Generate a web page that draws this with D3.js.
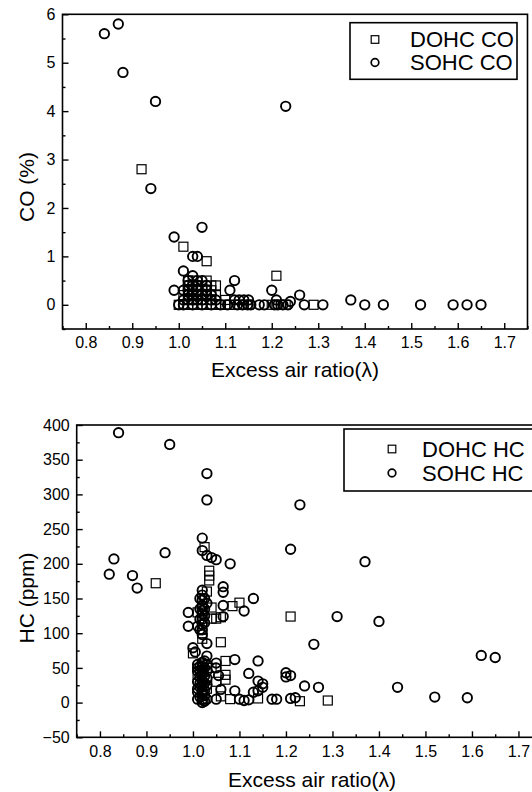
<!DOCTYPE html>
<html>
<head>
<meta charset="utf-8">
<script src="https://cdn.jsdelivr.net/npm/d3@7/dist/d3.min.js"></script>
<style>
  body { margin: 0; background: #fff; }
  text { font-family: "Liberation Sans", Arial, sans-serif; fill: #000; }
</style>
</head>
<body>
<svg id="chart"></svg>
<script>
// x axis shared by both panels
const xTicks = [0.8, 0.9, 1.0, 1.1, 1.2, 1.3, 1.4, 1.5, 1.6, 1.7];
const xMinor = [0.75, 0.85, 0.95, 1.05, 1.15, 1.25, 1.35, 1.45, 1.55, 1.65, 1.75];

// CO panel
const coTicks = [0, 1, 2, 3, 4, 5, 6];
const coMinor = [-0.5, 0.5, 1.5, 2.5, 3.5, 4.5, 5.5];
const coLegend = ["DOHC CO", "SOHC CO"];
const dohcCO = [
  [0.92, 2.8], [1.01, 1.2], [1.06, 0.9], [1.21, 0.6], [1.29, 0],
  [1.02, 0.5], [1.03, 0.5], [1.04, 0.4], [1.06, 0.5], [1.05, 0.3], [1.07, 0.4],
  [1.08, 0.4], [1.07, 0.3], [1.08, 0.2], [1.02, 0.3], [1.03, 0.2], [1.02, 0.1],
  [1.04, 0.1], [1.06, 0.1], [1.1, 0.1], [1.05, 0.2], [1.03, 0.4], [1.01, 0.2],
  [1.04, 0.3], [1.06, 0.2], [1.02, 0.4], [1.05, 0.4],
  [1.0, 0], [1.01, 0], [1.02, 0], [1.03, 0], [1.04, 0], [1.05, 0], [1.06, 0],
  [1.07, 0], [1.08, 0], [1.09, 0], [1.1, 0], [1.11, 0], [1.12, 0], [1.13, 0],
  [1.14, 0], [1.15, 0], [1.2, 0], [1.21, 0], [1.22, 0], [1.23, 0]
];
const sohcCO = [
  [0.84, 5.6], [0.87, 5.8], [0.88, 4.8], [0.95, 4.2], [1.23, 4.1], [0.94, 2.4],
  [1.05, 1.6], [0.99, 1.4], [1.03, 1.0], [1.04, 1.0], [1.01, 0.7], [1.03, 0.6],
  [1.12, 0.5], [0.99, 0.3], [1.11, 0.3], [1.2, 0.3], [1.26, 0.2], [1.24, 0.07],
  [1.21, 0.1], [1.37, 0.1],
  [1.27, 0], [1.31, 0], [1.40, 0], [1.44, 0], [1.52, 0], [1.59, 0], [1.62, 0], [1.65, 0],
  [1.02, 0.5], [1.04, 0.5], [1.05, 0.5], [1.02, 0.4], [1.03, 0.3], [1.05, 0.2],
  [1.07, 0.2], [1.04, 0.2], [1.02, 0.2], [1.06, 0.3], [1.01, 0.1], [1.03, 0.1],
  [1.05, 0.1], [1.07, 0.1], [1.13, 0.1], [1.14, 0.1], [1.15, 0.1], [1.12, 0.1],
  [1.02, 0.3], [1.04, 0.3], [1.06, 0.2], [1.03, 0.4], [1.04, 0.4], [1.06, 0.4],
  [1.08, 0.1], [1.02, 0.1], [1.04, 0.1], [1.03, 0.2], [1.01, 0.3],
  [1.0, 0], [1.01, 0], [1.03, 0], [1.05, 0], [1.07, 0], [1.09, 0], [1.105, 0],
  [1.126, 0], [1.137, 0], [1.148, 0], [1.155, 0], [1.173, 0], [1.184, 0],
  [1.206, 0], [1.213, 0], [1.224, 0], [1.235, 0]
];

// HC panel
const hcTicks = [-50, 0, 50, 100, 150, 200, 250, 300, 350, 400];
const hcMinor = [-25, 25, 75, 125, 175, 225, 275, 325, 375];
const hcLegend = ["DOHC HC", "SOHC HC"];
const dohcHC = [
  [0.92, 172], [1.025, 224], [1.035, 190], [1.035, 183], [1.035, 176], [1.1, 144],
  [1.085, 139], [1.03, 160], [1.04, 137], [1.21, 124], [1.06, 87], [1.07, 60],
  [1.07, 40], [1.07, 33], [1.06, 9], [1.01, 130], [1.0, 71], [1.08, 5], [1.14, 6],
  [1.23, 2], [1.29, 3], [1.04, 121], [1.05, 121], [1.06, 123], [1.02, 125],
  [1.02, 100], [1.02, 92], [1.02, 55], [1.02, 45], [1.02, 35], [1.02, 25],
  [1.02, 15], [1.02, 5], [1.01, 40], [1.03, 20], [1.04, 50], [1.05, 30]
];
const sohcHC = [
  [0.84, 389], [0.95, 372], [1.03, 330], [1.03, 292], [1.23, 285], [1.02, 237],
  [1.21, 221], [1.37, 203], [0.94, 216], [0.83, 207], [0.82, 185], [0.87, 183],
  [0.88, 165], [1.02, 219], [1.03, 212], [1.04, 209], [1.05, 206], [1.08, 200],
  [1.065, 167], [1.065, 159], [1.02, 162], [1.13, 150], [1.065, 140], [1.11, 132],
  [1.065, 124], [0.99, 130], [0.99, 110], [1.31, 124], [1.40, 117], [1.26, 84],
  [1.62, 68], [1.65, 65], [1.44, 22], [1.52, 8], [1.59, 7],
  [1.09, 62], [1.14, 60], [1.12, 42], [1.2, 43], [1.2, 37], [1.21, 39], [1.24, 24],
  [1.27, 22], [1.14, 31], [1.15, 27], [1.15, 22], [1.14, 17], [1.13, 15], [1.09, 17],
  [1.1, 5], [1.11, 3], [1.12, 4], [1.17, 5], [1.18, 5], [1.21, 6], [1.22, 7],
  [1.03, 85], [1.0, 79], [1.005, 73], [1.03, 67], [1.05, 57], [1.05, 50],
  [1.055, 39], [1.06, 19], [1.05, 5],
  [1.02, 155], [1.02, 148], [1.02, 140], [1.025, 135], [1.02, 128], [1.015, 120],
  [1.02, 113], [1.02, 105], [1.02, 98], [1.03, 143], [1.01, 110],
  [1.015, 105], [1.015, 135], [1.015, 150], [1.025, 115], [1.025, 125],
  [1.025, 150], [1.02, 120], [1.02, 133],
  [1.02, 58], [1.015, 52], [1.02, 47], [1.02, 42], [1.015, 37], [1.02, 32],
  [1.02, 27], [1.015, 22], [1.02, 17], [1.02, 12], [1.015, 8], [1.02, 4],
  [1.02, 0], [1.025, 2], [1.01, 15], [1.01, 30], [1.03, 25], [1.03, 45],
  [1.025, 10], [1.03, 5],
  [1.01, 5], [1.01, 20], [1.01, 45], [1.01, 55], [1.025, 18], [1.025, 28],
  [1.025, 38], [1.025, 50], [1.03, 35], [1.03, 55], [1.015, 28], [1.015, 45],
  [1.01, 50], [1.02, 52], [1.025, 60]
];

const W = 532, H = 792;
const svg = d3.select("#chart").attr("width", W).attr("height", H);

function draw_panel(cfg) {
    const x = d3.scaleLinear().domain([0.75, 1.75]).range([cfg.left, cfg.left + 465]);
    const y = d3.scaleLinear().domain(cfg.yDomain).range([cfg.bottom, cfg.top]);
    const g = svg.append("g");

    // minor ticks
    g.append("g")
        .attr("transform", `translate(0,${cfg.bottom})`)
        .call(d3.axisBottom(x).tickValues(xMinor).tickSize(-3).tickFormat(""));
    g.append("g")
        .attr("transform", `translate(${cfg.left},0)`)
        .call(d3.axisLeft(y).tickValues(cfg.yMinor).tickSize(-3).tickFormat(""));

    g.append("g")
        .attr("transform", `translate(0,${cfg.bottom})`)
        .call(d3.axisBottom(x).tickValues(xTicks).tickSize(-6).tickPadding(8)
            .tickFormat(d3.format(".1f")));
    g.append("g")
        .attr("transform", `translate(${cfg.left},0)`)
        .call(d3.axisLeft(y).tickValues(cfg.yTicks).tickSize(-6).tickPadding(7)
            .tickFormat(d3.format("d")));

    g.selectAll(".domain").remove();
    g.selectAll(".tick line").attr("stroke", "#000").attr("stroke-width", 1.4);
    g.selectAll(".tick text").attr("font-size", "16px");

    // frame
    g.append("rect")
        .attr("x", cfg.left).attr("y", cfg.top)
        .attr("width", x(1.75) - cfg.left).attr("height", cfg.bottom - cfg.top)
        .attr("fill", "none").attr("stroke", "#000").attr("stroke-width", 1.6);

    // points
    g.append("g").selectAll("rect")
        .data(cfg.squares)
        .join("rect")
        .attr("x", d => x(d[0]) - 4.5)
        .attr("y", d => y(d[1]) - 4.5)
        .attr("width", 9).attr("height", 9)
        .attr("fill", "none").attr("stroke", "#000").attr("stroke-width", 1.2);
    g.append("g").selectAll("circle")
        .data(cfg.circles)
        .join("circle")
        .attr("cx", d => x(d[0]))
        .attr("cy", d => y(d[1]))
        .attr("r", 4.7)
        .attr("fill", "none").attr("stroke", "#000").attr("stroke-width", 1.9);

    // legend
    const L = cfg.legend;
    g.append("rect")
        .attr("x", L.x).attr("y", L.y).attr("width", L.w).attr("height", L.h)
        .attr("fill", "#fff").attr("stroke", "#000").attr("stroke-width", 1.6);
    g.append("rect")
        .attr("x", L.mx - 3.8).attr("y", L.y1 - 3.8).attr("width", 7.6).attr("height", 7.6)
        .attr("fill", "none").attr("stroke", "#000").attr("stroke-width", 1.2);
    g.append("circle")
        .attr("cx", L.mx).attr("cy", L.y2).attr("r", 3.8)
        .attr("fill", "none").attr("stroke", "#000").attr("stroke-width", 1.7);
    [L.y1, L.y2].forEach((ly, i) => {
        g.append("text")
            .attr("x", L.tx).attr("y", ly)
            .attr("dy", "0.36em")
            .attr("font-size", "22px")
            .text(cfg.labels[i]);
    });

    // axis titles
    g.append("text")
        .attr("x", cfg.titleX).attr("y", cfg.titleY)
        .attr("text-anchor", "middle")
        .attr("dy", "0.36em")
        .attr("font-size", "21px")
        .text("Excess air ratio(\u03bb)");
    g.append("text")
        .attr("transform", `translate(${cfg.ylabX},${cfg.ylabY}) rotate(-90)`)
        .attr("text-anchor", "middle")
        .attr("dy", "0.36em")
        .attr("font-size", "21px")
        .text(cfg.yLabel);
}

draw_panel({
    left: 62.5, top: 14.3, bottom: 329,
    yDomain: [-0.5, 6], yTicks: coTicks, yMinor: coMinor,
    squares: dohcCO, circles: sohcCO, labels: coLegend,
    legend: {x: 350, y: 22.7, w: 167, h: 56.6, mx: 375, tx: 410, y1: 39.5, y2: 62.5},
    titleX: 295, titleY: 369, ylabX: 26, ylabY: 187, yLabel: "CO (%)"
});

draw_panel({
    left: 76.7, top: 425, bottom: 737.3,
    yDomain: [-50, 400], yTicks: hcTicks, yMinor: hcMinor,
    squares: dohcHC, circles: sohcHC, labels: hcLegend,
    legend: {x: 344, y: 429, w: 200, h: 62, mx: 392, tx: 422, y1: 449, y2: 473},
    titleX: 312, titleY: 779, ylabX: 26, ylabY: 598, yLabel: "HC (ppm)"
});
</script>
</body>
</html>
